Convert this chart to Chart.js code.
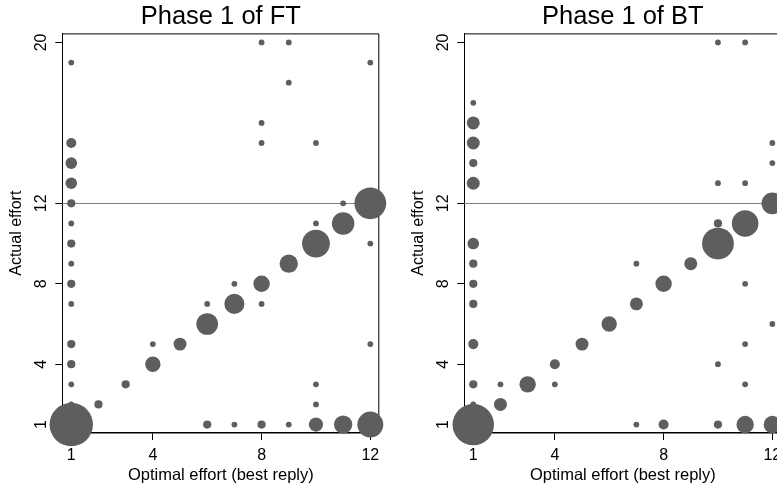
<!DOCTYPE html>
<html>
<head>
<meta charset="utf-8">
<script src="https://cdn.jsdelivr.net/npm/chart.js@4.4.1/dist/chart.umd.min.js"></script>
<style>
  html, body { margin: 0; padding: 0; background: #fff; overflow: hidden; }
  body { width: 777px; height: 488px; position: relative; }
  canvas { position: absolute; top: 0; }
</style>
</head>
<body>
<canvas id="ft" width="390" height="488" style="left:0"></canvas>
<canvas id="bt" width="390" height="488" style="left:402px"></canvas>
<script>
const xTicks = [1, 4, 8, 12];
const yTicks = [1, 4, 8, 12, 20];
const refLine = 12;

// Phase 1 of FT: optimal effort, actual effort, number of observations
const ftX = [1, 1, 1, 1, 1, 1, 1, 1, 1, 1, 1, 1, 1, 1, 1,
  2, 3, 4, 4, 5, 6, 6, 6, 7, 7, 7,
  8, 8, 8, 8, 8, 8, 9, 9, 9, 9,
  10, 10, 10, 10, 10, 10, 11, 11, 11, 12, 12, 12, 12, 12];
const ftY = [19, 15, 14, 13, 12, 11, 10, 9, 8, 7, 5, 4, 3, 2, 1,
  2, 3, 5, 4, 5, 7, 6, 1, 8, 7, 1,
  20, 16, 15, 8, 7, 1, 20, 18, 9, 1,
  15, 11, 10, 3, 2, 1, 12, 11, 1, 19, 12, 10, 5, 1];
const ftN = [1, 3, 4, 4, 2, 1, 2, 1, 2, 1, 2, 2, 1, 1, 56,
  2, 2, 1, 7, 5, 1, 14, 2, 1, 12, 1,
  1, 1, 1, 8, 1, 2, 1, 1, 10, 1,
  1, 1, 23, 1, 1, 6, 1, 15, 10, 1, 30, 1, 1, 20];

// Phase 1 of BT
const btX = [1, 1, 1, 1, 1, 1, 1, 1, 1, 1, 1, 1, 1,
  2, 2, 3, 4, 4, 5, 6, 7, 7, 7, 8, 8, 9,
  10, 10, 10, 10, 10, 10, 11, 11, 11, 11, 11, 11, 11,
  12, 12, 12, 12, 12];
const btY = [17, 16, 15, 14, 13, 10, 9, 8, 7, 5, 3, 2, 1,
  3, 2, 3, 4, 3, 5, 6, 9, 7, 1, 8, 1, 9,
  20, 13, 11, 10, 4, 1, 20, 13, 11, 8, 5, 3, 1,
  15, 14, 12, 6, 1];
const btN = [1, 5, 5, 2, 5, 4, 2, 2, 2, 3, 2, 1, 51,
  1, 5, 8, 3, 1, 5, 7, 1, 5, 1, 8, 3, 5,
  1, 1, 2, 30, 1, 2, 1, 1, 21, 1, 1, 1, 9,
  1, 1, 14, 1, 9];

const font = "'Liberation Sans', Arial, sans-serif";

const framePlugin = {
  id: "frame",
  beforeDatasetsDraw(chart) {
    const { ctx, chartArea: a, scales } = chart;
    const yl = Math.round(scales.y.getPixelForValue(refLine)) + 0.5;
    ctx.save();
    ctx.lineWidth = 1;
    ctx.strokeStyle = "#808080";
    ctx.beginPath();
    ctx.moveTo(a.left, yl);
    ctx.lineTo(a.right, yl);
    ctx.stroke();
    ctx.strokeStyle = "#000";
    ctx.beginPath();
    ctx.moveTo(a.left, a.top + 0.5);
    ctx.lineTo(a.right - 0.5, a.top + 0.5);
    ctx.lineTo(a.right - 0.5, a.bottom);
    ctx.stroke();
    ctx.restore();
  }
};

function makeChart(id, title, xs, ys, ns) {
  const points = xs.map((x, i) => ({ x: x, y: ys[i], r: 2.9 * Math.sqrt(ns[i]) }));
  return new Chart(document.getElementById(id), {
    type: "bubble",
    data: {
      datasets: [{ data: points, backgroundColor: "#5e5e5e", borderWidth: 0, clip: false }]
    },
    options: {
      responsive: false,
      animation: false,
      events: [],
      layout: { autoPadding: false, padding: { left: 0, right: 10.7, top: 0, bottom: 0 } },
      plugins: {
        legend: { display: false },
        tooltip: { enabled: false },
        title: {
          display: true, text: title, fullSize: false, color: "#000",
          font: { family: font, size: 25.5, weight: "normal" },
          padding: { top: 2, bottom: 0.8 }
        }
      },
      scales: {
        x: {
          type: "linear", min: 0.67, max: 12.33, z: 1,
          afterBuildTicks: s => { s.ticks = xTicks.map(v => ({ value: v })); },
          afterFit: s => { s.height = 55; s.paddingLeft = 0; s.paddingRight = 0; },
          grid: { drawOnChartArea: false, drawTicks: true, tickLength: 7, color: "#000" },
          border: { color: "#000", width: 1.5 },
          ticks: {
            autoSkip: false, maxRotation: 0, padding: 6, color: "#000",
            font: { family: font, size: 16 }, callback: v => String(v)
          },
          title: {
            display: true, text: "Optimal effort (best reply)", color: "#000",
            font: { family: font, size: 16.5 }, padding: { top: 0, bottom: 2.2 }
          }
        },
        y: {
          type: "linear", min: 0.58, max: 20.45, z: 1,
          afterBuildTicks: s => { s.ticks = yTicks.map(v => ({ value: v })); },
          afterFit: s => { s.width = 62.3; s.paddingTop = 0; s.paddingBottom = 0; },
          grid: { drawOnChartArea: false, drawTicks: true, tickLength: 7, color: "#000" },
          border: { color: "#000", width: 1 },
          ticks: {
            autoSkip: false, minRotation: 90, maxRotation: 90, crossAlign: "center",
            padding: 5, color: "#000", font: { family: font, size: 16 }, callback: v => String(v)
          },
          title: {
            display: true, text: "Actual effort", color: "#000",
            font: { family: font, size: 16 }, padding: { top: 7, bottom: 0 }
          }
        }
      }
    },
    plugins: [framePlugin]
  });
}

makeChart("ft", "Phase 1 of FT", ftX, ftY, ftN);
makeChart("bt", "Phase 1 of BT", btX, btY, btN);
</script>
</body>
</html>
